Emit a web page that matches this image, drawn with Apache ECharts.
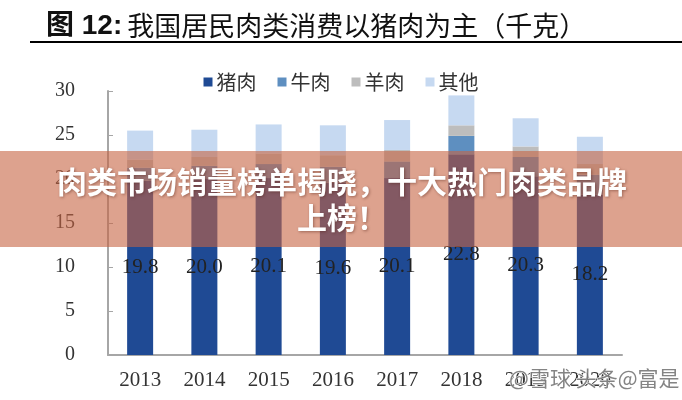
<!DOCTYPE html>
<html><head><meta charset="utf-8">
<script src="https://cdn.jsdelivr.net/npm/echarts@6/dist/echarts.min.js"></script>
<style>html,body{margin:0;padding:0;background:#fff}#c{width:682px;height:400px}</style>
</head><body><div id="c"></div>
<script>
var years = ['2013','2014','2015','2016','2017','2018','2019','2020'];
var seriesNames = ['猪肉','牛肉','羊肉','其他'];
var pork   = [19.8, 20.0, 20.1, 19.6, 20.1, 22.8, 20.3, 18.2];
var beef   = [1.5, 1.5, 1.6, 1.8, 1.9, 2.1, 2.2, 2.3];
var mutton = [0.9, 1.0, 1.2, 1.3, 1.3, 1.2, 1.2, 1.2];
var other  = [3.3, 3.1, 3.3, 3.4, 3.4, 3.4, 3.2, 3.1];
var yTicks = [0, 5, 10, 15, 20, 25, 30];
var titleMain = '我国居民肉类消费以猪肉为主（千克）';
var bannerText = '肉类市场销量榜单揭晓，十大热门肉类品牌\n上榜！';
var watermark = '@雪球 头条@富是';

var colors = ['#1F4A94', '#5E8FC0', '#BDBDBD', '#C6D9F1'];
var serif = '"Liberation Serif", "DejaVu Serif", serif';
var cjk = '"Noto Sans CJK SC", sans-serif';

var chart = echarts.init(document.getElementById('c'), null, {renderer: 'canvas'});
var dataSets = [pork, beef, mutton, other];
var series = dataSets.map(function (d, i) {
  var s = {
    name: seriesNames[i], type: 'bar', stack: 'total', data: d,
    barWidth: 26, itemStyle: {color: colors[i]}, emphasis: {disabled: true}
  };
  if (i === 0) {
    s.label = {
      show: true, position: 'inside', color: '#222',
      fontFamily: serif, fontSize: 21,
      formatter: function (p) { return p.value.toFixed(1); }
    };
  }
  return s;
});

chart.setOption({
  animation: false,
  color: colors,
  title: {
    left: 41, top: 7,
    text: '{a|图 12:} {b|' + titleMain + '}',
    textStyle: {
      rich: {
        a: {fontFamily: '"Liberation Sans", ' + cjk, fontWeight: 'bold', fontSize: 28, color: '#111'},
        b: {fontFamily: cjk, fontWeight: 'normal', fontSize: 27, color: '#111'}
      }
    }
  },
  legend: {
    data: seriesNames, left: 'center', top: 67,
    itemWidth: 9, itemHeight: 9, itemGap: 21, icon: 'rect',
    textStyle: {fontFamily: cjk, fontSize: 20, color: '#333', padding: [0,0,0,-1]}
  },
  grid: {left: 108, right: 60, top: 91, bottom: 45},
  xAxis: {
    type: 'category', data: years,
    axisLine: {lineStyle: {color: '#a6a6a6', width: 2}},
    axisTick: {inside: true, length: 5, lineStyle: {color: '#a6a6a6'}},
    axisLabel: {fontFamily: serif, fontSize: 21, color: '#333', margin: 15}
  },
  yAxis: {
    type: 'value', min: yTicks[0], max: yTicks[yTicks.length - 1], interval: 5,
    splitLine: {show: false},
    axisLine: {show: true, lineStyle: {color: '#a6a6a6', width: 2}},
    axisTick: {show: true, inside: true, length: 5, lineStyle: {color: '#a6a6a6'}},
    axisLabel: {fontFamily: serif, fontSize: 20, color: '#333', margin: 33}
  },
  series: series,
  graphic: [
    {type: 'line', shape: {x1: 30, y1: 42, x2: 682, y2: 42}, style: {stroke: '#000', lineWidth: 2}, z: 10},
    {type: 'text', right: 2, top: 367, z: 20,
      style: {text: watermark, fontFamily: cjk, fontSize: 21, fill: 'rgba(110,110,110,0.85)', stroke: '#fff', lineWidth: 1}},
    {type: 'rect', shape: {x: 0, y: 151, width: 682, height: 96}, style: {fill: 'rgba(198,100,66,0.6)'}, z: 50},
    {type: 'text', x: 342, y: 200, z: 51,
      style: {text: bannerText, fontFamily: cjk, fontWeight: 'bold', fontSize: 30, lineHeight: 36,
        fill: '#fff', align: 'center', verticalAlign: 'middle',
        textShadowColor: 'rgba(80,30,20,0.45)', textShadowBlur: 3, textShadowOffsetX: 1, textShadowOffsetY: 1}}
  ]
});
</script></body></html>
